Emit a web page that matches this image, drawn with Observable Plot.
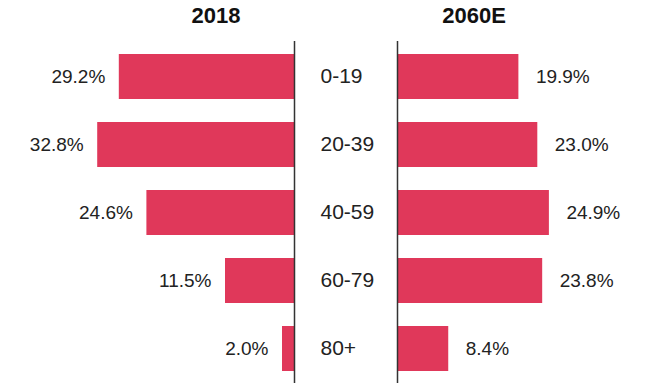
<!DOCTYPE html>
<html>
<head>
<meta charset="utf-8">
<script src="https://cdn.jsdelivr.net/npm/d3@7"></script>
<script src="https://cdn.jsdelivr.net/npm/@observablehq/plot@0.6"></script>
<style>
  html, body { margin: 0; padding: 0; background: #fff; }
  #wrap { position: relative; width: 651px; height: 391px; overflow: hidden; font-family: "Liberation Sans", Arial, Helvetica, sans-serif; }
  #wrap svg { position: absolute; top: 0; }
  .ttl { position: absolute; top: 3px; font-size: 22px; font-weight: bold; color: #111; transform: translateX(-50%); white-space: nowrap; }
</style>
</head>
<body>
<div id="wrap"></div>
<script>
const ageGroups = ["0-19", "20-39", "40-59", "60-79", "80+"];
const share2018 = [29.2, 32.8, 24.6, 11.5, 2.0];
const share2060 = [19.9, 23.0, 24.9, 23.8, 8.4];
const titles = ["2018", "2060E"];

const barColor = "#e0385a";
const font = "Liberation Sans, Arial, Helvetica, sans-serif";
const H = 391, MT = 41, MB = 8;
const yOpts = { domain: ageGroups, paddingInner: 0.34, paddingOuter: 0.17, axis: null };

const left = ageGroups.map((g, i) => ({ group: g, value: share2018[i] }));
const right = ageGroups.map((g, i) => ({ group: g, value: share2060[i] }));
const fmt = v => v.toFixed(1) + "%";

const leftPlot = Plot.plot({
  width: 300, height: H, marginTop: MT, marginBottom: MB, marginLeft: 0, marginRight: 6,
  style: { fontFamily: font, background: "transparent", overflow: "visible" },
  x: { domain: [0, 49], reverse: true, axis: null },
  y: yOpts,
  marks: [
    Plot.barX(left, { x: "value", y: "group", fill: barColor }),
    Plot.text(left, { x: "value", y: "group", text: d => fmt(d.value), textAnchor: "end", dx: -14, fontSize: 19, fill: "#222" }),
    Plot.ruleX([0], { stroke: "#333", strokeWidth: 1.5 })
  ]
});
leftPlot.style.left = "0px";

const midPlot = Plot.plot({
  width: 91, height: H, marginTop: MT, marginBottom: MB, marginLeft: 20, marginRight: 0,
  style: { fontFamily: font, background: "transparent", overflow: "visible" },
  y: yOpts,
  marks: [
    Plot.text(ageGroups, { y: d => d, text: d => d, frameAnchor: "left", textAnchor: "start", fontSize: 21, fill: "#222" })
  ]
});
midPlot.style.left = "300px";

const rightPlot = Plot.plot({
  width: 260, height: H, marginTop: MT, marginBottom: MB, marginLeft: 6, marginRight: 0,
  style: { fontFamily: font, background: "transparent", overflow: "visible" },
  x: { domain: [0, 254 / 6.1], axis: null },
  y: yOpts,
  marks: [
    Plot.barX(right, { x: "value", y: "group", fill: barColor }),
    Plot.text(right, { x: "value", y: "group", text: d => fmt(d.value), textAnchor: "start", dx: 17, fontSize: 19, fill: "#222" }),
    Plot.ruleX([0], { stroke: "#333", strokeWidth: 1.5 })
  ]
});
rightPlot.style.left = "391px";

const wrap = document.getElementById("wrap");
wrap.append(leftPlot, midPlot, rightPlot);

const titleCenters = [216, 474];
titles.forEach((t, i) => {
  const d = document.createElement("div");
  d.className = "ttl";
  d.textContent = t;
  d.style.left = titleCenters[i] + "px";
  wrap.append(d);
});
</script>
</body>
</html>
